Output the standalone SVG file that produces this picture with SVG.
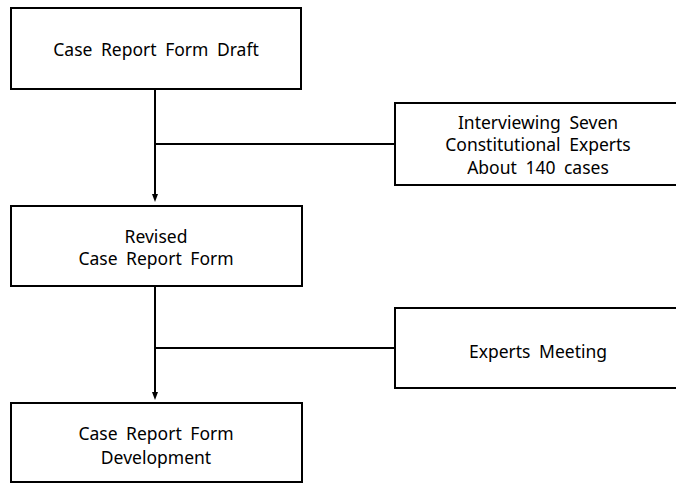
<svg xmlns="http://www.w3.org/2000/svg" width="676" height="484" viewBox="0 0 676 484">
<style>
.box{fill:#fff;stroke:#000;stroke-width:2}
.t{font-family:"Noto Sans","Liberation Sans",sans-serif;font-size:17.5px;fill:#000;text-anchor:middle;word-spacing:4px}
.c{fill:none;stroke:#000;stroke-width:2}
</style>
<defs>
<marker id="ah" markerWidth="8" markerHeight="8" refX="4" refY="4" orient="auto" markerUnits="userSpaceOnUse">
<path d="M0,1 L8,4 L0,7 z" fill="#000"/>
</marker>
</defs>
<g id="connectors">
<path class="c" d="M155,89 V198" marker-end="url(#ah)"/>
<path class="c" d="M155,144 H395"/>
<path class="c" d="M155,286 V396" marker-end="url(#ah)"/>
<path class="c" d="M155,348 H395"/>
</g>
<g id="n1">
<rect class="box" x="11" y="8" width="290" height="81"/>
<text class="t" x="156" y="56">Case Report Form Draft</text>
</g>
<g id="n2">
<rect class="box" x="11" y="206" width="291" height="80"/>
<text class="t" x="156" y="243">Revised</text>
<text class="t" x="156" y="265">Case Report Form</text>
</g>
<g id="n3">
<rect class="box" x="395" y="103" width="282" height="82"/>
<text class="t" x="538" y="129">Interviewing Seven</text>
<text class="t" x="538" y="151">Constitutional Experts</text>
<text class="t" x="538" y="174">About 140 cases</text>
</g>
<g id="n4">
<rect class="box" x="395" y="308" width="282" height="80"/>
<text class="t" x="538" y="358">Experts Meeting</text>
</g>
<g id="n5">
<rect class="box" x="11" y="403" width="291" height="79"/>
<text class="t" x="156" y="440">Case Report Form</text>
<text class="t" x="156" y="464">Development</text>
</g>
</svg>
